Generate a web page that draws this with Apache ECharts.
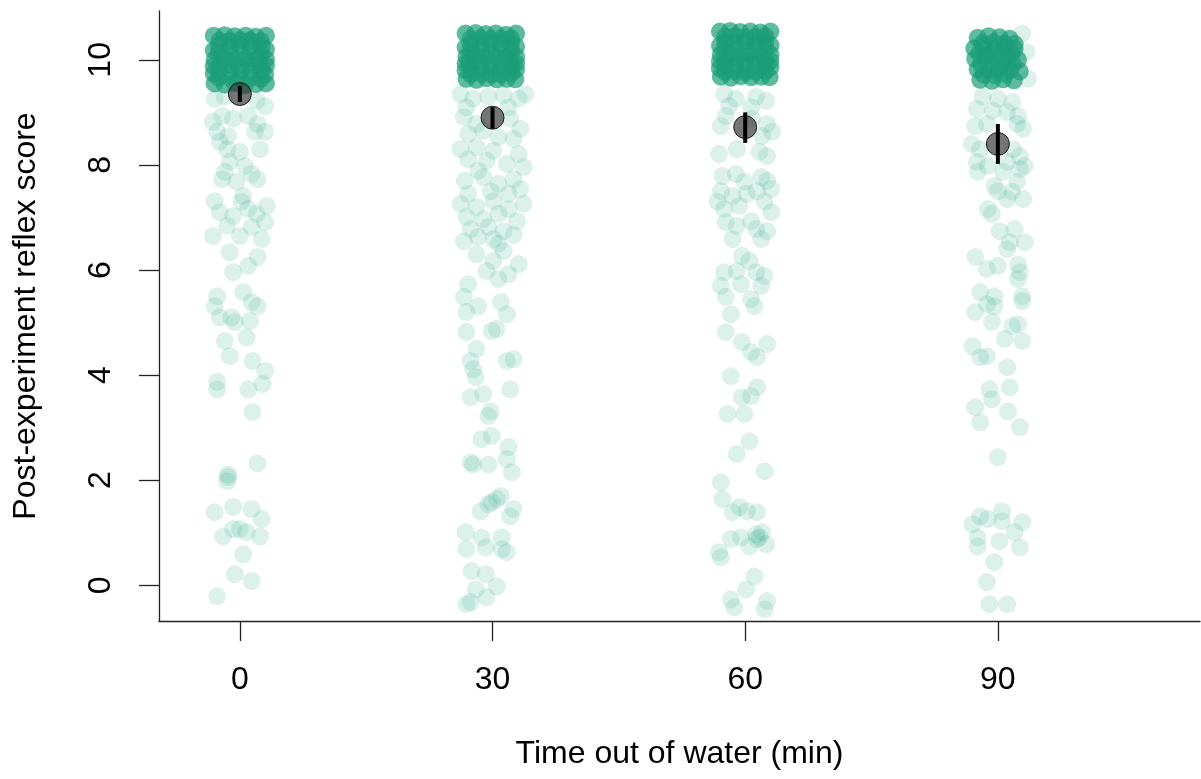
<!DOCTYPE html>
<html>
<head>
<meta charset="utf-8">
<script src="https://cdn.jsdelivr.net/npm/echarts@6/dist/echarts.min.js"></script>
<style>
html,body{margin:0;padding:0;background:#fff;}
#chart{width:1201px;height:779px;}
</style>
</head>
<body>
<div id="chart"></div>
<script>
// ---- data ----
const groups = [0, 30, 60, 90];
const xTicks = [0, 30, 60, 90];
const yTicks = [0, 2, 4, 6, 8, 10];

// group means and interval ends
const means = [9.35, 8.90, 8.72, 8.40];
const ciLow = [9.20, 8.69, 8.42, 8.02];
const ciHigh = [9.50, 9.10, 9.00, 8.78];

// jittered individual scores, [time (jittered), score (jittered)]
const pts0 = [
  [-3.0,9.26],[-1.8,9.30],[2.0,9.22],[3.0,9.12],[-3.2,8.82],[-2.1,8.93],[-0.8,8.88],[1.0,8.93],[2.1,8.78],
  [-2.7,8.63],[-1.4,8.55],[1.8,8.63],[3.0,8.63],[-1.5,8.30],[0.0,8.25],[2.4,8.30],[-2.4,8.44],[-1.2,8.06],
  [0.6,7.98],[-1.8,7.87],[1.4,7.83],[-2.1,7.73],[-0.4,7.68],[2.1,7.73],[0.4,7.41],[0.2,7.30],[-3.0,7.31],
  [3.2,7.22],[-2.4,7.10],[-0.8,7.03],[2.0,7.07],[1.0,7.16],[-1.5,6.84],[1.4,6.82],[3.0,6.91],[-3.2,6.65],
  [0.0,6.65],[2.6,6.59],[-1.2,6.34],[2.1,6.25],[-0.8,5.96],[1.0,6.08],[-2.7,5.50],[0.4,5.58],[1.4,5.39],
  [-3.0,5.31],[2.1,5.31],[-2.4,5.10],[-1.0,5.10],[-0.6,5.01],[1.2,5.03],[-1.8,4.65],[0.8,4.72],[-1.2,4.36],
  [1.5,4.27],[3.0,4.08],[-2.7,3.87],[-2.7,3.73],[1.0,3.73],[2.7,3.83],[1.5,3.30],[2.1,2.32],[-1.4,2.11],
  [-1.4,2.06],[-1.5,1.98],[-3.0,1.39],[-0.8,1.49],[1.4,1.45],[2.6,1.26],[-2.0,0.93],[-0.8,1.07],[0.0,1.07],
  [0.8,1.01],[2.4,0.93],[0.4,0.59],[-0.6,0.21],[1.4,0.08],[-2.7,-0.21]
];
const pts30 = [
  [26.2,9.35],[27.7,9.26],[29.5,9.30],[31.3,9.33],[33.1,9.26],[26.9,9.10],[31.9,9.10],[33.9,9.35],
  [26.6,8.91],[28.1,8.78],[32.1,8.88],[33.3,8.69],[27.1,8.59],[30.7,8.53],[32.5,8.50],[28.9,8.65],
  [26.2,8.30],[28.1,8.34],[30.1,8.27],[33.1,8.21],[27.1,8.11],[29.3,8.08],[31.7,8.02],[33.7,7.96],[28.3,7.89],
  [26.7,7.70],[28.9,7.77],[30.7,7.64],[32.5,7.73],[27.1,7.45],[29.8,7.50],[31.9,7.45],[33.3,7.54],
  [26.2,7.26],[28.1,7.20],[30.1,7.31],[31.9,7.16],[33.7,7.26],[26.9,7.01],[28.9,6.97],[30.7,7.07],[32.9,6.93],
  [27.4,6.78],[29.5,6.82],[31.3,6.74],[28.3,6.63],[30.1,6.59],[32.5,6.67],[26.6,6.55],[30.7,6.50],
  [28.1,6.30],[31.3,6.36],[30.1,6.17],[33.1,6.11],[29.3,5.98],[30.7,5.83],[31.9,5.92],[27.1,5.73],[26.6,5.49],
  [26.9,5.20],[28.3,5.31],[31.0,5.39],[31.7,5.16],[26.9,4.82],[29.9,4.84],[30.5,4.88],[28.1,4.50],
  [27.4,4.27],[27.7,4.11],[28.0,3.96],[31.7,4.27],[32.5,4.30],[32.1,3.73],[27.4,3.58],[28.9,3.64],
  [29.8,3.31],[29.5,3.22],[28.7,2.78],[29.9,2.84],[31.9,2.63],[31.7,2.40],[32.3,2.15],[27.4,2.34],
  [27.7,2.30],[29.5,2.30],[28.6,1.41],[29.5,1.54],[30.5,1.64],[31.0,1.70],[29.9,1.58],[32.1,1.31],
  [32.5,1.45],[26.8,1.01],[28.7,0.91],[31.1,0.91],[26.9,0.69],[29.2,0.72],[31.1,0.69],[31.7,0.63],
  [27.5,0.27],[29.2,0.21],[30.5,-0.02],[28.0,-0.08],[29.3,-0.23],[26.9,-0.36],[27.4,-0.32]
];
const pts60 = [
  [57.5,9.35],[58.9,9.26],[61.3,9.30],[62.5,9.22],[58.1,9.12],[60.7,9.10],[57.7,8.93],[62.6,8.78],
  [63.2,8.63],[57.1,8.74],[60.8,8.88],[62.0,8.55],[56.9,8.21],[59.0,8.30],[61.7,8.25],[62.6,8.17],
  [57.3,7.79],[58.9,7.83],[59.9,7.68],[61.9,7.77],[62.6,7.70],[57.1,7.50],[58.5,7.41],[60.2,7.45],
  [61.4,7.50],[63.1,7.54],[56.7,7.30],[57.5,7.16],[59.3,7.22],[62.3,7.30],[63.1,7.10],[57.7,6.91],
  [59.0,6.84],[60.7,6.93],[61.3,6.78],[62.6,6.74],[58.5,6.59],[61.9,6.59],[59.6,6.27],[60.5,6.17],
  [57.5,5.96],[59.0,5.98],[61.3,5.96],[62.3,5.89],[57.1,5.70],[59.5,5.73],[61.9,5.70],[57.7,5.49],
  [60.7,5.45],[61.1,5.31],[58.3,5.16],[57.7,4.82],[59.6,4.63],[60.7,4.44],[62.6,4.59],[61.4,4.34],
  [58.3,3.98],[59.6,3.58],[61.4,3.77],[60.7,3.60],[57.9,3.26],[59.9,3.26],[60.5,2.74],[59.0,2.50],
  [62.3,2.17],[57.1,1.96],[57.3,1.64],[58.5,1.39],[59.3,1.49],[60.2,1.41],[61.4,1.39],[58.3,0.88],
  [59.5,0.91],[61.3,0.97],[61.4,0.88],[62.0,1.01],[61.7,0.91],[62.5,0.78],[60.5,0.74],[56.9,0.63],
  [57.1,0.53],[61.1,0.17],[60.1,-0.08],[58.3,-0.27],[58.7,-0.42],[62.6,-0.30],[62.3,-0.46]
];
const pts90 = [
  [92.9,10.50],[93.4,10.15],[93.6,9.64],[88.2,9.30],[90.0,9.26],[91.7,9.20],[87.5,9.07],[89.4,9.03],
  [91.1,9.01],[92.4,8.93],[87.3,8.74],[88.7,8.78],[92.3,8.78],[93.0,8.69],[86.9,8.40],[87.9,8.30],
  [91.8,8.30],[92.6,8.17],[87.5,8.06],[88.8,7.98],[91.1,8.06],[93.2,7.98],[87.6,7.87],[90.6,7.87],
  [92.6,7.92],[89.6,7.60],[92.3,7.68],[90.0,7.50],[91.7,7.49],[93.0,7.35],[91.1,7.35],[88.8,7.16],
  [89.3,7.07],[90.2,6.74],[92.0,6.78],[91.4,6.53],[93.2,6.53],[91.1,6.40],[87.3,6.25],[88.7,6.02],
  [90.0,6.08],[92.4,6.11],[92.6,5.96],[92.4,5.83],[87.9,5.58],[89.6,5.50],[92.9,5.50],[87.3,5.20],
  [88.7,5.35],[89.6,5.31],[92.9,5.41],[89.3,5.01],[91.7,4.93],[92.4,4.97],[90.8,4.69],[92.9,4.65],
  [87.0,4.55],[87.9,4.34],[88.7,4.36],[91.1,4.15],[89.0,3.73],[89.3,3.54],[91.4,3.77],[87.3,3.39],
  [87.9,3.10],[91.2,3.31],[92.6,3.01],[90.0,2.44],[87.9,1.31],[88.8,1.26],[90.5,1.41],[87.0,1.16],
  [90.5,1.22],[92.9,1.20],[92.0,1.01],[87.6,0.91],[87.6,0.74],[90.2,0.84],[92.6,0.72],[89.6,0.44],
  [88.7,0.06],[89.0,-0.36],[91.1,-0.36]
];
// heavily overlapping scores of 10 (estimated positions in the solid blocks)
const top0 = [
  [-3.1,10.46],[-1.8,10.47],[-0.6,10.45],[0.7,10.46],[1.9,10.44],[3.1,10.46],
  [-2.4,10.37],[-1.2,10.36],[0.0,10.38],[1.2,10.37],[2.5,10.36],
  [-2.5,10.27],[-1.2,10.25],[0.1,10.28],[1.3,10.24],[2.6,10.26],[3.1,10.20],[-3.1,10.18],
  [-2.5,10.14],[-1.2,10.13],[0.1,10.15],[1.3,10.14],[2.5,10.12],
  [-3.0,10.00],[-1.8,10.03],[-0.5,9.98],[0.7,10.02],[1.9,9.99],[3.1,10.01],
  [-2.4,9.90],[-1.1,9.91],[0.0,9.89],[1.2,9.90],[2.4,9.92],[-3.1,9.88],[3.1,9.89],
  [-2.5,9.80],[-1.2,9.78],[0.1,9.82],[1.3,9.79],[2.6,9.81],[3.0,9.72],[-3.1,9.74],
  [-2.5,9.66],[-1.2,9.67],[0.0,9.65],[1.3,9.66],[2.5,9.64],
  [-3.0,9.55],[-1.8,9.53],[-0.6,9.56],[0.6,9.52],[1.9,9.54],[3.1,9.55]
];
const top30 = [
  [26.8,10.50],[28.0,10.51],[29.2,10.49],[30.4,10.50],[31.6,10.48],[32.8,10.50],
  [27.4,10.40],[28.6,10.41],[29.8,10.39],[31.0,10.40],[32.2,10.41],
  [27.4,10.30],[28.6,10.28],[29.8,10.31],[31.0,10.29],[32.2,10.30],[26.8,10.24],[32.8,10.25],
  [27.4,10.17],[28.6,10.18],[29.8,10.16],[31.0,10.17],[32.2,10.18],
  [26.9,10.06],[28.0,10.08],[29.2,10.05],[30.4,10.07],[31.6,10.04],[32.8,10.06],
  [27.3,9.95],[28.6,9.96],[29.8,9.94],[31.1,9.95],[32.2,9.96],[26.8,9.93],[32.8,9.94],
  [27.4,9.86],[28.6,9.84],[29.8,9.87],[31.0,9.85],[32.2,9.86],[26.8,9.80],[32.8,9.82],
  [27.4,9.73],[28.7,9.74],[29.9,9.72],[31.0,9.73],[32.2,9.74],
  [26.9,9.64],[28.1,9.62],[29.3,9.65],[30.5,9.63],[31.7,9.64],[32.7,9.63]
];
const top60 = [
  [57.0,10.54],[58.2,10.55],[59.4,10.53],[60.6,10.54],[61.8,10.52],[63.0,10.54],
  [57.6,10.44],[58.8,10.45],[60.0,10.43],[61.2,10.44],[62.4,10.45],
  [57.6,10.34],[58.8,10.32],[60.0,10.35],[61.2,10.33],[62.4,10.34],[57.0,10.27],[63.0,10.28],
  [57.6,10.21],[58.8,10.22],[60.0,10.20],[61.2,10.21],[62.4,10.22],
  [57.1,10.10],[58.2,10.12],[59.4,10.09],[60.6,10.11],[61.8,10.08],[63.0,10.10],
  [57.6,9.99],[58.8,10.00],[60.0,9.98],[61.2,9.99],[62.4,10.00],[57.0,9.97],[63.0,9.98],
  [57.6,9.90],[58.8,9.88],[60.0,9.91],[61.2,9.89],[62.4,9.90],[57.0,9.84],[63.0,9.86],
  [57.6,9.77],[58.8,9.78],[60.0,9.76],[61.2,9.77],[62.4,9.78],
  [57.1,9.68],[58.3,9.66],[59.5,9.69],[60.7,9.67],[61.9,9.68],[62.9,9.67]
];
const top90 = [
  [87.6,10.42],[88.9,10.45],[90.2,10.43],[91.4,10.40],
  [88.2,10.32],[89.5,10.33],[90.8,10.31],[92.0,10.30],
  [87.2,10.22],[88.3,10.25],[89.6,10.20],[90.8,10.24],[92.0,10.21],
  [87.8,10.12],[89.1,10.13],[90.4,10.11],[91.6,10.12],
  [87.3,10.02],[88.6,10.05],[89.9,10.00],[91.2,10.04],[92.4,10.00],
  [88.0,9.92],[89.3,9.91],[90.6,9.93],[91.8,9.92],
  [87.6,9.82],[88.9,9.80],[90.2,9.84],[91.5,9.81],[92.6,9.78],
  [88.3,9.72],[89.6,9.71],[90.9,9.73],
  [87.9,9.62],[89.3,9.60],[90.6,9.63],[91.9,9.61]
];

// ---- chart ----
const FONT = '"Liberation Sans", Arial, sans-serif';
const chart = echarts.init(document.getElementById('chart'), null, {renderer: 'canvas'});
const green = '#1B9E77';
const meanData = groups.map((g, i) => [g, means[i]]);
const barData = groups.map((g, i) => [g, ciLow[i], ciHigh[i]]);

chart.setOption({
  animation: false,
  backgroundColor: '#ffffff',
  grid: {left: 159, right: 1, top: 11, bottom: 158, containLabel: false},
  xAxis: {
    type: 'value', min: -9.6, max: 114,
    name: 'Time out of water (min)', nameLocation: 'middle', nameGap: 117,
    nameTextStyle: {fontFamily: FONT, fontSize: 32, color: '#000'},
    axisLine: {show: true, onZero: false, lineStyle: {color: '#222', width: 1.3}},
    axisTick: {show: true, length: 20, customValues: xTicks, lineStyle: {color: '#222', width: 1.3}},
    axisLabel: {customValues: xTicks, margin: 43, fontFamily: FONT, fontSize: 32, color: '#000'},
    splitLine: {show: false}
  },
  yAxis: {
    type: 'value', min: -0.68, max: 10.93,
    name: 'Post-experiment reflex score', nameLocation: 'middle', nameGap: 117,
    nameTextStyle: {fontFamily: FONT, fontSize: 32, color: '#000'},
    axisLine: {show: true, onZero: false, lineStyle: {color: '#222', width: 1.3}},
    axisTick: {show: true, length: 20, customValues: yTicks, lineStyle: {color: '#222', width: 1.3}},
    axisLabel: {customValues: yTicks, rotate: 90, margin: 42, fontFamily: FONT, fontSize: 32, color: '#000'},
    splitLine: {show: false}
  },
  series: [
    {
      type: 'scatter', z: 2, symbol: 'circle', symbolSize: 18, silent: true,
      data: pts0.concat(pts30, pts60, pts90),
      itemStyle: {color: green, opacity: 0.15}
    },
    {
      type: 'scatter', z: 2, symbol: 'circle', symbolSize: 18, silent: true,
      data: top0.concat(top30, top60, top90),
      itemStyle: {color: green, opacity: 0.7}
    },
    {
      type: 'scatter', z: 3, symbol: 'circle', symbolSize: 23, silent: true,
      data: meanData,
      itemStyle: {color: 'rgba(40,40,40,0.8)', borderColor: '#000', borderWidth: 1}
    },
    {
      type: 'custom', z: 4, silent: true,
      data: barData,
      encode: {x: 0, y: [1, 2]},
      renderItem: function (params, api) {
        const p1 = api.coord([api.value(0), api.value(1)]);
        const p2 = api.coord([api.value(0), api.value(2)]);
        return {
          type: 'line',
          shape: {x1: p1[0], y1: p1[1], x2: p2[0], y2: p2[1]},
          style: {stroke: '#000', lineWidth: 4}
        };
      }
    }
  ]
});
</script>
</body>
</html>
